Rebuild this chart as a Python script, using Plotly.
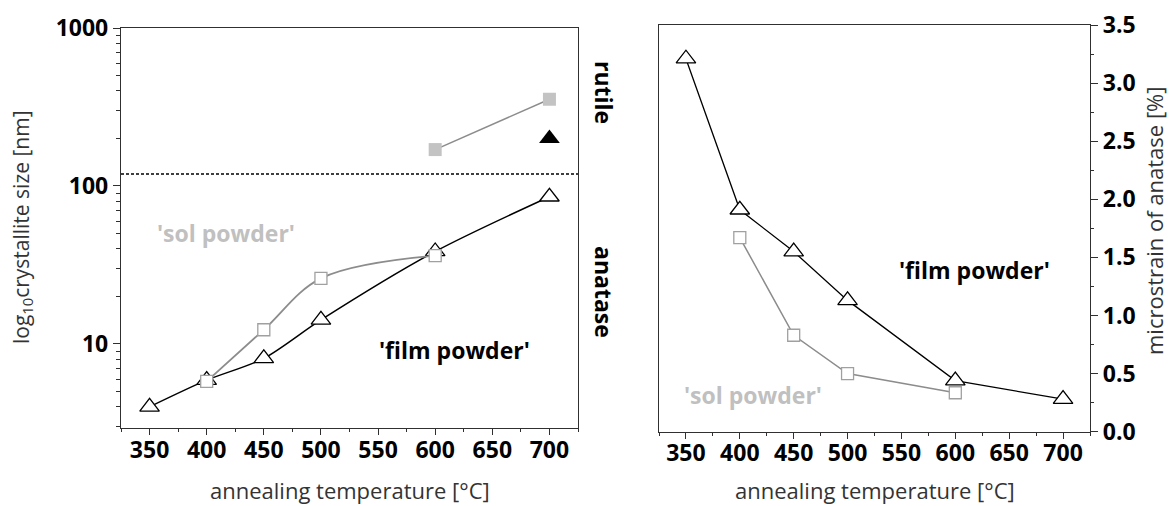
import plotly.graph_objects as go

# ---------------- data ----------------
temps_film = [350, 400, 450, 500, 600, 700]
film_size = [4.0, 5.9, 8.1, 14.2, 38.5, 85.5]
temps_sol = [400, 450, 500, 600]
sol_size = [5.8, 12.3, 26.0, 36.2]
rutile_sol_temps = [600, 700]
rutile_sol_size = [170, 354]
rutile_film_temps = [700]
rutile_film_size = [200]
phase_boundary = 119
boundary_temps = [325, 725]

film_strain = [3.21, 1.91, 1.55, 1.13, 0.44, 0.28]
sol_strain = [1.67, 0.83, 0.50, 0.335]

x_ticks = [350, 400, 450, 500, 550, 600, 650, 700]
x_minor = [325, 375, 425, 475, 525, 575, 625, 675, 725]
log_ticks = [10, 100, 1000]
log_minor = [3, 4, 5, 6, 7, 8, 9, 20, 30, 40, 50, 60, 70, 80, 90,
             200, 300, 400, 500, 600, 700, 800, 900]

FONT = "Open Sans"
GREY_LINE = "#8c8c8c"
GREY_FILL = "#c3c3c3"
AX = "#303030"

fig = go.Figure()

# ---- left panel ----
fig.add_trace(go.Scatter(x=boundary_temps, y=[phase_boundary, phase_boundary], mode="lines",
                         line=dict(color="black", width=1.5, dash="3px,2px"),
                         xaxis="x", yaxis="y", showlegend=False))
fig.add_trace(go.Scatter(x=rutile_sol_temps, y=rutile_sol_size, mode="lines+markers",
                         line=dict(color=GREY_LINE, width=1.5),
                         marker=dict(symbol="square", size=13, color=GREY_FILL, line=dict(width=0)),
                         xaxis="x", yaxis="y", showlegend=False))
fig.add_trace(go.Scatter(x=rutile_film_temps, y=rutile_film_size, mode="markers",
                         marker=dict(symbol="triangle-up", size=18, color="black", line=dict(width=0)),
                         xaxis="x", yaxis="y", showlegend=False))
fig.add_trace(go.Scatter(x=temps_film, y=film_size, mode="lines+markers",
                         line=dict(color="black", width=1.5, shape="spline", smoothing=0.8),
                         marker=dict(symbol="triangle-up", size=17, color="white",
                                     line=dict(color="black", width=1.3)),
                         xaxis="x", yaxis="y", showlegend=False))
fig.add_trace(go.Scatter(x=temps_sol, y=sol_size, mode="lines+markers",
                         line=dict(color=GREY_LINE, width=1.8, shape="spline", smoothing=1.0),
                         marker=dict(symbol="square", size=12, color="white",
                                     line=dict(color="#a0a0a0", width=1.3)),
                         xaxis="x", yaxis="y", showlegend=False))

# ---- right panel ----
fig.add_trace(go.Scatter(x=temps_sol, y=sol_strain, mode="lines+markers",
                         line=dict(color=GREY_LINE, width=1.5),
                         marker=dict(symbol="square", size=12, color="white",
                                     line=dict(color="#a0a0a0", width=1.3)),
                         xaxis="x2", yaxis="y2", showlegend=False))
fig.add_trace(go.Scatter(x=temps_film, y=film_strain, mode="lines+markers",
                         line=dict(color="black", width=1.3),
                         marker=dict(symbol="triangle-up", size=17, color="white",
                                     line=dict(color="black", width=1.3)),
                         xaxis="x2", yaxis="y2", showlegend=False))

tickfont = dict(family=FONT, size=23, color="black", weight="bold")

common_x = dict(range=[325, 725], tickvals=x_ticks, ticks="outside", ticklen=6, tickwidth=1.3,
                tickcolor=AX, showline=True, linecolor=AX, linewidth=1.3, mirror=True,
                showgrid=False, zeroline=False, tickfont=tickfont, ticklabelstandoff=-5,
                automargin=False,
                minor=dict(tickvals=x_minor, ticks="outside", ticklen=3, tickwidth=1.3, tickcolor=AX))

fig.update_layout(
    width=1171, height=506,
    margin=dict(l=0, r=0, t=0, b=0, autoexpand=False),
    paper_bgcolor="white", plot_bgcolor="white",
    font=dict(family=FONT, color="#333333"),
    xaxis=dict(domain=[121/1171, 578/1171], anchor="y", **common_x),
    yaxis=dict(domain=[1-428/506, 1-28/506], anchor="x", type="log", range=[0.468, 3],
               tickvals=log_ticks, ticktext=["10", "100", "1000"], ticks="outside", ticklen=7,
               tickwidth=1.3, tickcolor=AX, showline=True, linecolor=AX, linewidth=1.3, mirror=True,
               showgrid=False, zeroline=False, tickfont=tickfont, automargin=False,
               minor=dict(tickvals=log_minor, ticks="outside", ticklen=3.5, tickwidth=1.3, tickcolor=AX)),
    xaxis2=dict(domain=[659/1171, 1090/1171], anchor="y2", **common_x),
    yaxis2=dict(domain=[1-431.7/506, 1-25/506], anchor="x2", side="right", range=[0, 3.5],
                tickvals=[0, 0.5, 1.0, 1.5, 2.0, 2.5, 3.0, 3.5], tickformat=".1f", ticks="outside",
                ticklen=7, tickwidth=1.3, tickcolor=AX, showline=True, linecolor=AX, linewidth=1.3,
                mirror=True, showgrid=False, zeroline=False, tickfont=tickfont, automargin=False,
                minor=dict(dtick=0.25, tick0=0, ticks="outside", ticklen=3, tickwidth=1.3, tickcolor=AX)),
)

ann_bold = dict(family=FONT, size=23, weight="bold")
title_font = dict(family=FONT, size=22, color="#333333")
annotations = [
    dict(x=417, y=1.70, xref="x", yref="y", text="'sol powder'", showarrow=False,
         font=dict(color="#c0c0c0", **ann_bold)),
    dict(x=617, y=0.962, xref="x", yref="y", text="'film powder'", showarrow=False,
         font=dict(color="black", **ann_bold)),
    dict(x=617.5, y=1.39, xref="x2", yref="y2", text="'film powder'", showarrow=False,
         font=dict(color="black", **ann_bold)),
    dict(x=412, y=0.316, xref="x2", yref="y2", text="'sol powder'", showarrow=False,
         font=dict(color="#c0c0c0", **ann_bold)),
    dict(x=604/1171, y=1-92/506, xref="paper", yref="paper", text="rutile", textangle=90,
         xanchor="center", yanchor="middle",
         showarrow=False, font=dict(color="black", **ann_bold)),
    dict(x=604/1171, y=1-292/506, xref="paper", yref="paper", text="anatase", textangle=90,
         xanchor="center", yanchor="middle",
         showarrow=False, font=dict(color="black", **ann_bold)),
    dict(x=22/1171, y=1-227/506, xref="paper", yref="paper",
         text="log<sub>10</sub>crystallite size [nm]", textangle=-90, showarrow=False,
         xanchor="center", yanchor="middle", font=dict(family=FONT, size=21, color="#333333")),
    dict(x=1154/1171, y=1-221/506, xref="paper", yref="paper",
         text="microstrain of anatase [%]", textangle=-90, showarrow=False,
         xanchor="center", yanchor="middle", font=title_font),
    dict(x=0.5, y=1-490/506, xref="x domain", yref="paper",
         text="annealing temperature [°C]", showarrow=False, borderpad=0,
         xanchor="center", yanchor="middle", font=title_font),
    dict(x=0.5, y=1-490/506, xref="x2 domain", yref="paper",
         text="annealing temperature [°C]", showarrow=False, borderpad=0,
         xanchor="center", yanchor="middle", font=title_font),
]
fig.update_layout(annotations=annotations)

fig.write_html("out.html")
